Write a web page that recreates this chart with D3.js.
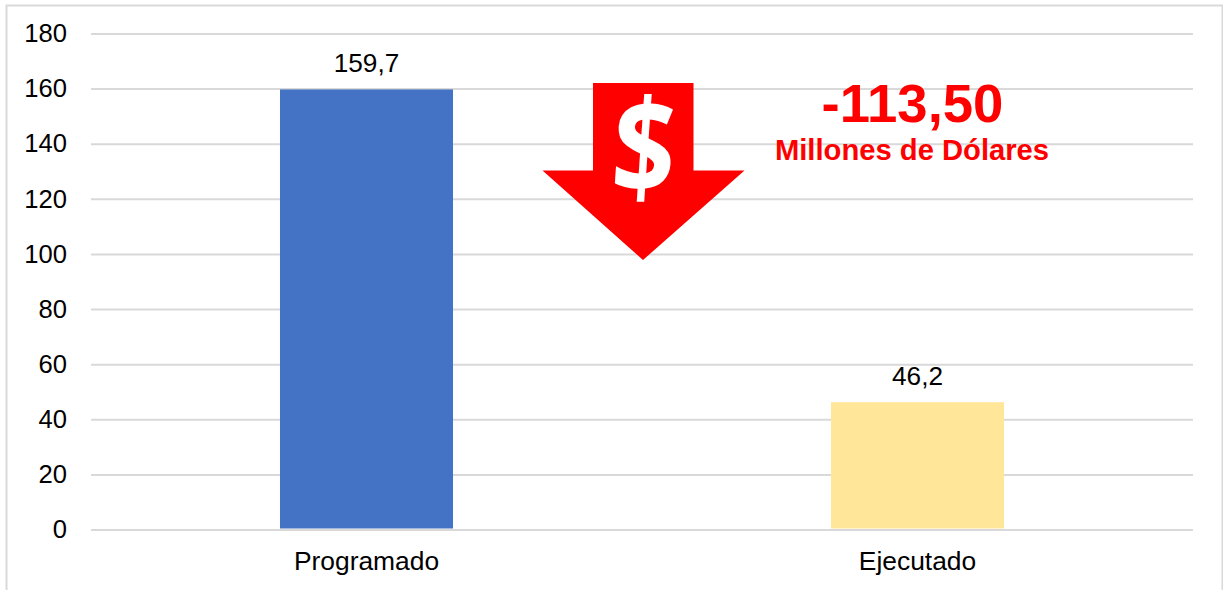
<!DOCTYPE html>
<html><head><meta charset="utf-8">
<script src="https://cdn.jsdelivr.net/npm/d3@7"></script>
<style>html,body{margin:0;padding:0;background:#fff}svg{display:block}text{font-family:"Liberation Sans",Arial,sans-serif}</style>
</head><body><svg id="c" width="1223" height="590"></svg>
<script>
const categories = ["Programado","Ejecutado"];
const values = [159.7,46.2];
const valueLabels = ["159,7","46,2"];
const barColors = ["#4472C4","#FFE699"];
const yTicks = [0,20,40,60,80,100,120,140,160,180];
const deltaLabel = "-113,50";
const deltaUnit = "Millones de Dólares";

const svg = d3.select("#c");
const x = d3.scaleBand().domain(categories).range([91,1193]).paddingInner(0.686).paddingOuter(0.343);
const y = d3.scaleLinear().domain([0,180]).range([529.5,33.5]);

svg.append("path").attr("d","M6.5,590V5.5H1222.5V590").attr("fill","none").attr("stroke","#d9d9d9").attr("stroke-width",2);

const yAxis = d3.axisLeft(y).tickValues(yTicks).tickSize(-(1193-91)).tickPadding(24);
const gy = svg.append("g").attr("transform","translate(91,0)").call(yAxis);
gy.select(".domain").remove();
gy.selectAll("line").attr("stroke","#d9d9d9").attr("stroke-width",2);
gy.selectAll("text").attr("font-size",25.6).attr("fill","#000").attr("font-family","Liberation Sans").attr("x",-24);

svg.selectAll("rect.bar").data(values).join("rect").attr("class","bar")
  .attr("x",(d,i)=>x(categories[i])).attr("width",x.bandwidth())
  .attr("y",d=>y(d)).attr("height",d=>y(0)-y(d)-1).attr("fill",(d,i)=>barColors[i]);

svg.selectAll("text.val").data(values).join("text").attr("class","val")
  .attr("x",(d,i)=>x(categories[i])+x.bandwidth()/2).attr("y",d=>y(d)-17.5)
  .attr("text-anchor","middle").attr("font-size",26.2).attr("fill","#000")
  .text((d,i)=>valueLabels[i]);

const xAxis = d3.axisBottom(x).tickSize(0).tickPadding(22);
const gx = svg.append("g").attr("transform","translate(0,529.5)").call(xAxis);
gx.select(".domain").remove();
gx.selectAll("text").attr("font-size",26.4).attr("fill","#000").attr("font-family","Liberation Sans");

svg.append("path").attr("d","M593,83H693.5V170.5H744.5L643,260L542.5,170.5H593Z").attr("fill","#ff0000");
svg.append("text").attr("transform","translate(641,194) skewX(-4) scale(0.84,1)").attr("text-anchor","middle")
  .style("font-family","'Open Sans'").attr("font-weight",700).attr("font-size",132).attr("fill","#fff").text("$");
svg.append("text").attr("x",912.5).attr("y",122).attr("text-anchor","middle").attr("font-weight",700)
  .attr("font-size",54.5).attr("fill","#ff0000").text(deltaLabel);
svg.append("text").attr("x",912).attr("y",160).attr("text-anchor","middle").attr("font-weight",700)
  .attr("font-size",29.2).attr("fill","#ff0000").text(deltaUnit);
</script></body></html>
